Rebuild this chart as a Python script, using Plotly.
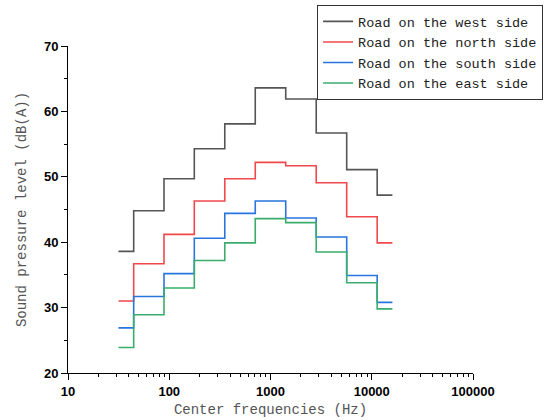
import plotly.graph_objects as go

freqs = [31.5, 63, 125, 250, 500, 1000, 2000, 4000, 8000, 16000]
west = [38.6, 44.8, 49.7, 54.3, 58.1, 63.6, 61.9, 56.7, 51.1, 47.2]
north = [31.0, 36.7, 41.2, 46.3, 49.7, 52.2, 51.7, 49.1, 43.9, 39.9]
south = [26.9, 31.7, 35.2, 40.6, 44.4, 46.3, 43.7, 40.8, 34.9, 30.8]
east = [23.9, 28.9, 33.0, 37.2, 39.9, 43.6, 43.0, 38.5, 33.8, 29.8]

names = ["Road on the west side", "Road on the north side",
         "Road on the south side", "Road on the east side"]
colors = ["#555555", "#f0484c", "#2a74de", "#3aad6c"]
series = [west, north, south, east]

fig = go.Figure()
for name, vals, c in zip(names, series, colors):
    fig.add_trace(go.Scatter(x=freqs, y=vals, mode="lines", name=name,
                             line=dict(shape="hvh", color=c, width=1.6)))

tickfont = dict(family="Liberation Sans", size=13, color="#000000", weight="bold")
titlefont = dict(family="Liberation Mono", size=14, color="#555555")

fig.update_layout(
    width=550, height=420,
    margin=dict(l=68, r=77, t=46, b=47, autoexpand=False),
    paper_bgcolor="white", plot_bgcolor="white",
    showlegend=True,
    legend=dict(x=0.615, y=1.125, xanchor="left", yanchor="top",
                bordercolor="#333333", borderwidth=1, bgcolor="white",
                font=dict(family="Liberation Mono", size=13.5, color="#222222"),
                tracegroupgap=0, itemwidth=30),
)
fig.update_xaxes(type="log", range=[1, 5], tickvals=[10, 100, 1000, 10000, 100000],
                 ticktext=["10", "100", "1000", "10000", "100000"],
                 showgrid=False, zeroline=False, showline=True, linecolor="#000000", linewidth=1,
                 ticks="outside", ticklen=6, tickcolor="#000000", tickfont=tickfont,
                 minor=dict(ticks="outside", ticklen=3, tickcolor="#000000", dtick="D1", showgrid=False),
                 title=dict(text="Center frequencies (Hz)", font=titlefont, standoff=6))
fig.update_yaxes(range=[20, 70], dtick=10, showgrid=False, zeroline=False,
                 showline=True, linecolor="#000000", linewidth=1,
                 ticks="outside", ticklen=6, tickcolor="#000000", tickfont=tickfont,
                 minor=dict(ticks="outside", ticklen=3, tickcolor="#000000", dtick=5, showgrid=False),
                 title=dict(text="Sound pressure level (dB(A))", font=titlefont, standoff=14))

fig.write_html("out.html", config={"displayModeBar": False},
               post_script="document.body.style.margin='0';document.body.style.padding='0';")
